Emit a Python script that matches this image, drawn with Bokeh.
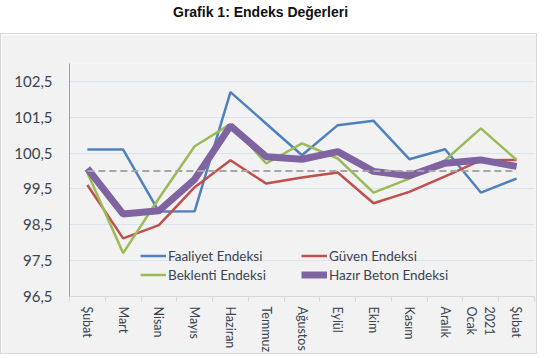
import math
from bokeh.plotting import figure
from bokeh.models import FixedTicker, Legend, LegendItem, Div, ColumnDataSource
from bokeh.layouts import column
from bokeh.embed import file_html
from bokeh.resources import INLINE

# ---- data ----
months = ["Şubat", "Mart", "Nisan", "Mayıs", "Haziran", "Temmuz", "Ağustos",
          "Eylül", "Ekim", "Kasım", "Aralık", "2021\nOcak", "Şubat"]
faaliyet = [100.60, 100.60, 98.87, 98.88, 102.20, 101.32, 100.44, 101.28, 101.40, 100.33, 100.61, 99.40, 99.79]
guven = [99.61, 98.12, 98.49, 99.55, 100.30, 99.65, 99.82, 99.96, 99.10, 99.42, 99.85, 100.30, 100.31]
beklenti = [99.95, 97.71, 99.24, 100.69, 101.31, 100.21, 100.77, 100.35, 99.40, 99.79, 100.30, 101.19, 100.31]
hazir = [100.07, 98.80, 98.89, 99.77, 101.26, 100.40, 100.33, 100.54, 99.99, 99.87, 100.22, 100.31, 100.13]
reference_level = 100.0
y_ticks = [96.5, 97.5, 98.5, 99.5, 100.5, 101.5, 102.5]

x = list(range(len(months)))
src = ColumnDataSource(dict(x=x, faaliyet=faaliyet, guven=guven, beklenti=beklenti,
                            hazir=hazir, ref=[reference_level] * len(x)))

FONT = "Lato"
TXT = "#3a4450"

p = figure(width=537, height=321, x_range=(-0.5, len(months) - 0.5), y_range=(96.5, 103.0),
           output_backend="svg", toolbar_location=None,
           min_border_left=68, min_border_right=4, min_border_top=29, min_border_bottom=58,
           background_fill_color="#f2f2f2", border_fill_color="#f2f2f2",
           outline_line_color=None)
p.styles = {"border": "1px solid #d9d9d9"}

r_f = p.line("x", "faaliyet", source=src, line_color="#4f81bd", line_width=2.5)
r_g = p.line("x", "guven", source=src, line_color="#c0504d", line_width=2.5)
r_b = p.line("x", "beklenti", source=src, line_color="#9bbb59", line_width=2.5)
r_h = p.line("x", "hazir", source=src, line_color="#8064a2", line_width=7)
p.line("x", "ref", source=src, line_color="#a6a6a6", line_width=2, line_dash="7 4")

# y axis
p.yaxis.ticker = FixedTicker(ticks=y_ticks)
p.yaxis.major_label_overrides = {v: f"{v:.1f}".replace(".", ",") for v in y_ticks}
p.yaxis.axis_line_color = "#7ea6d6"
p.yaxis.major_tick_out = 0
p.yaxis.major_tick_in = 0
p.yaxis.minor_tick_out = 0
p.yaxis.minor_tick_in = 0
p.yaxis.major_label_standoff = 17
p.yaxis.major_label_text_font = FONT
p.yaxis.major_label_text_font_size = "15px"
p.yaxis.major_label_text_color = TXT

p.ygrid.ticker = FixedTicker(ticks=y_ticks)
p.ygrid.grid_line_color = "#dbe4ee"
p.xgrid.grid_line_color = None

# x axis
p.xaxis.ticker = FixedTicker(ticks=x, minor_ticks=[i - 0.5 for i in range(len(months) + 1)])
p.xaxis.major_label_overrides = {i: m for i, m in enumerate(months)}
p.xaxis.major_label_orientation = -math.pi / 2
p.xaxis.axis_line_color = "#d9d9d9"
p.xaxis.major_tick_out = 0
p.xaxis.major_tick_in = 0
p.xaxis.minor_tick_out = 5
p.xaxis.minor_tick_in = 0
p.xaxis.minor_tick_line_color = "#d9d9d9"
p.xaxis.major_label_standoff = 5
p.xaxis.major_label_text_font = FONT
p.xaxis.major_label_text_font_size = "12.5px"
p.xaxis.major_label_text_color = TXT

def mk_legend(items, loc):
    lg = Legend(items=items, location=loc, orientation="vertical",
                padding=0, margin=0, spacing=2, label_height=17, glyph_height=17,
                glyph_width=26, label_standoff=2,
                label_text_font=FONT, label_text_font_size="13.5px", label_text_color=TXT,
                background_fill_alpha=0, border_line_color=None)
    return lg

p.add_layout(mk_legend([LegendItem(label="Faaliyet Endeksi", renderers=[r_f]),
                        LegendItem(label="Beklenti Endeksi", renderers=[r_b])], (71, 13)))
p.add_layout(mk_legend([LegendItem(label="Güven Endeksi", renderers=[r_g]),
                        LegendItem(label="Hazır Beton Endeksi", renderers=[r_h])], (232, 13)))

title = Div(text='<div style="font: bold 14px \'Liberation Sans\', Arial, sans-serif; color:#111; '
                 'padding-left:168px; padding-top:0px; line-height:15px;">Grafik 1: Endeks Değerleri</div>',
            width=537, height=23)

layout = column(title, p, spacing=0)

open("out.html", "w").write(file_html(layout, INLINE))
